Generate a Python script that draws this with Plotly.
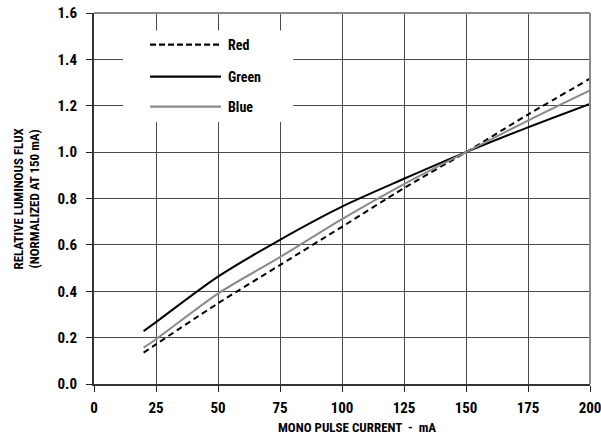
import plotly.graph_objects as go

current_ma = [20, 25, 50, 75, 100, 125, 150, 175, 200]
red = [0.135, 0.171, 0.348, 0.513, 0.678, 0.845, 1.0, 1.162, 1.317]
green = [0.228, 0.267, 0.463, 0.622, 0.765, 0.885, 1.0, 1.107, 1.208]
blue = [0.157, 0.193, 0.390, 0.547, 0.711, 0.862, 1.0, 1.136, 1.266]

x_ticks = [0, 25, 50, 75, 100, 125, 150, 175, 200]
y_ticks = [0.0, 0.2, 0.4, 0.6, 0.8, 1.0, 1.2, 1.4, 1.6]
y_ticklabels = ["0.0", "0.2", "0.4", "0.6", "0.8", "1.0", "1.2", "1.4", "1.6"]

series_names = ["Red", "Green", "Blue"]
series_colors = ["#000000", "#000000", "#8a8a8a"]
series_dash = ["6px,4px", "solid", "solid"]

FONT = "Roboto Condensed, Roboto, sans-serif"

fig = go.Figure()
for name, ys, col, dash in zip(series_names, [red, green, blue], series_colors, series_dash):
    fig.add_trace(go.Scatter(x=current_ma, y=ys, mode="lines", name=name,
                             line=dict(color=col, width=2, dash=dash, shape="spline", smoothing=0.8),
                             showlegend=False, hoverinfo="skip"))

# Legend box (white) and entries
fig.add_shape(type="rect", xref="x", yref="y", x0=11.7, x1=80.3, y0=1.13, y1=1.525,
              fillcolor="white", line=dict(width=0), layer="between")
legend_y = [1.464, 1.326, 1.196]
for name, col, dash, ly in zip(series_names, series_colors, series_dash, legend_y):
    fig.add_shape(type="line", xref="x", yref="y", x0=22.6, x1=51.2, y0=ly, y1=ly,
                  line=dict(color=col, width=2.2, dash=("6px,3px" if dash != "solid" else "solid")))
    fig.add_annotation(x=53.3, y=ly, xref="x", yref="y", text=name, showarrow=False,
                       xanchor="left", yanchor="middle",
                       font=dict(family=FONT, size=14, color="black", weight="bold"))

# Axis titles
fig.add_annotation(x=0.531, y=-0.118, xref="paper", yref="paper", text="MONO PULSE CURRENT  -  mA",
                   showarrow=False, xanchor="center", yanchor="middle",
                   font=dict(family=FONT, size=13, color="black", weight="bold"))
fig.add_annotation(x=-0.137, y=0.5, xref="paper", yref="paper",
                   text="RELATIVE LUMINOUS FLUX<br>(NORMALIZED AT 150 mA)",
                   showarrow=False, textangle=-90, xanchor="center", yanchor="middle",
                   font=dict(family=FONT, size=13, color="black", weight="bold"))

fig.update_layout(
    width=601, height=438,
    margin=dict(l=94, r=11, t=13, b=54, autoexpand=False),
    paper_bgcolor="white", plot_bgcolor="white",
    font=dict(family=FONT, size=14, color="black", weight="bold"),
    xaxis=dict(range=[0, 200], tickvals=x_ticks, ticks="outside", ticklen=6, tickcolor="#222",
               showgrid=True, gridcolor="#4a4a4a", gridwidth=1, zeroline=False, automargin=False,
               showline=True, linecolor="#333", linewidth=2, mirror=False,
               ticklabeloverflow="allow", ticklabelstandoff=3,
               tickfont=dict(family=FONT, size=15, color="black", weight="bold")),
    yaxis=dict(range=[0, 1.6], tickvals=y_ticks, ticktext=y_ticklabels, ticks="outside", ticklen=6,
               tickcolor="#222", showgrid=True, gridcolor="#4a4a4a", gridwidth=1, zeroline=False,
               showline=True, linecolor="#333", linewidth=2, automargin=False,
               ticklabeloverflow="allow", ticklabelstandoff=6,
               tickfont=dict(family=FONT, size=15, color="black", weight="bold")),
    showlegend=False,
)
# top and right border in gray
fig.add_shape(type="line", xref="paper", yref="paper", x0=0, x1=1, y0=1, y1=1, line=dict(color="#8a8a8a", width=2))
fig.add_shape(type="line", xref="paper", yref="paper", x0=1, x1=1, y0=0, y1=1, line=dict(color="#8a8a8a", width=2))

fig.write_html("out.html", config={"displayModeBar": False},
               post_script="document.body.style.margin='0';document.body.style.overflow='hidden';")
